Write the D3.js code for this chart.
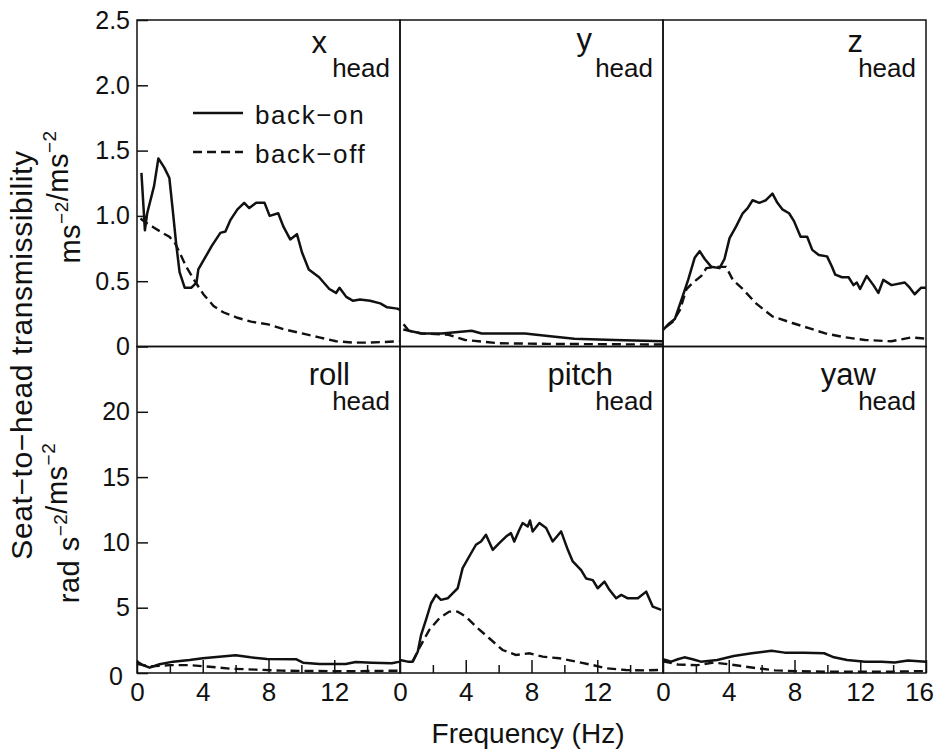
<!DOCTYPE html>
<html>
<head>
<meta charset="utf-8">
<script src="https://cdn.jsdelivr.net/npm/d3@7"></script>
<style>
  body { margin: 0; background: #fff; }
  svg { display: block; font-family: "Liberation Sans", Arial, sans-serif; }
</style>
</head>
<body>
<div class="chart"></div>
<script>
// ======= SEAT-TO-HEAD TRANSMISSIBILITY, 6 PANELS ===========

// [frequency (Hz), transmissibility]
const xHeadOn = [[0.27,1.33],[0.48,0.89],[0.62,1.02],[1.04,1.23],[1.3,1.44],[1.66,1.37],[1.97,1.29],[2.17,1.05],[2.38,0.79],[2.59,0.57],[2.9,0.45],[3.31,0.45],[3.62,0.49],[3.73,0.59],[4.14,0.68],[4.55,0.77],[5.07,0.87],[5.38,0.88],[5.69,0.97],[6.11,1.05],[6.52,1.1],[6.83,1.06],[7.25,1.1],[7.76,1.1],[8.07,1.0],[8.59,1.02],[8.9,0.92],[9.32,0.82],[9.73,0.86],[10.04,0.72],[10.45,0.59],[11.08,0.53],[11.7,0.44],[12.11,0.41],[12.32,0.45],[12.73,0.38],[13.15,0.35],[13.56,0.36],[14.18,0.35],[14.8,0.33],[15.22,0.3],[15.84,0.29],[16,0.28]]
const xHeadOff = [[0.21,0.98],[0.52,0.95],[1.04,0.91],[1.55,0.87],[1.97,0.84],[2.28,0.8],[2.59,0.72],[3.0,0.61],[3.52,0.5],[4.04,0.4],[4.66,0.31],[5.28,0.26],[6.11,0.22],[6.94,0.19],[7.97,0.17],[9.0,0.13],[10.04,0.1],[11.08,0.07],[12.11,0.04],[13.15,0.03],[14.18,0.03],[16,0.04]]

const yHeadOn = [[0.22,0.17],[0.53,0.12],[1.33,0.1],[2.55,0.1],[4.36,0.12],[4.97,0.1],[7.6,0.1],[9.0,0.08],[10.6,0.06],[13.05,0.05],[16,0.04]]
const yHeadOff = [[0.2,0.13],[1.3,0.1],[2.95,0.09],[3.96,0.05],[6.0,0.025],[9.0,0.02],[16,0.015]]

const zHeadOn = [[0.02,0.13],[0.32,0.17],[0.72,0.21],[1.13,0.36],[1.53,0.51],[1.93,0.68],[2.23,0.73],[2.54,0.67],[2.94,0.61],[3.44,0.6],[3.74,0.67],[4.05,0.83],[4.45,0.92],[4.85,1.02],[5.15,1.06],[5.45,1.12],[5.86,1.1],[6.26,1.12],[6.66,1.17],[6.96,1.1],[7.26,1.05],[7.67,1.02],[7.97,0.96],[8.37,0.84],[8.77,0.84],[9.08,0.74],[9.48,0.7],[9.98,0.69],[10.28,0.61],[10.48,0.55],[10.89,0.53],[11.29,0.53],[11.59,0.47],[11.79,0.49],[11.99,0.44],[12.39,0.54],[12.8,0.47],[13.1,0.41],[13.4,0.51],[13.9,0.47],[14.71,0.49],[15.01,0.45],[15.31,0.4],[15.71,0.45],[16,0.45]]
const zHeadOff = [[0.2,0.15],[0.6,0.19],[1.03,0.28],[1.43,0.44],[1.83,0.49],[2.33,0.54],[2.64,0.6],[3.24,0.61],[3.84,0.61],[4.25,0.51],[4.85,0.44],[5.66,0.33],[6.66,0.23],[7.87,0.18],[8.88,0.14],[9.88,0.1],[11.09,0.07],[12.29,0.05],[13.9,0.04],[15.1,0.07],[16,0.06]]

const rollHeadOn = [[0,0.87],[0.35,0.61],[0.77,0.41],[1.37,0.67],[2.2,0.87],[3.2,1.0],[4.0,1.13],[5.0,1.25],[6.0,1.36],[6.9,1.2],[7.9,1.07],[9.7,1.05],[10.1,0.79],[11.1,0.69],[12.7,0.69],[13.3,0.84],[14.3,0.79],[15.5,0.74],[16,0.87]]
const rollHeadOff = [[0,0.7],[0.77,0.5],[2.0,0.6],[3.2,0.6],[4.6,0.46],[5.7,0.33],[7.2,0.26],[8.8,0.18],[10.8,0.15],[12.9,0.13],[16,0.18]]

const pitchHeadOn = [[0,1.0],[0.47,0.87],[0.77,0.87],[1.08,1.63],[1.28,2.9],[1.58,4.06],[1.89,5.34],[2.19,5.98],[2.49,5.6],[2.9,5.72],[3.2,6.1],[3.51,6.49],[3.81,8.03],[4.21,8.92],[4.62,9.82],[4.93,10.07],[5.23,10.58],[5.64,9.43],[6.04,9.95],[6.45,10.45],[6.75,10.71],[6.95,10.07],[7.26,10.97],[7.46,11.48],[7.77,11.22],[7.91,11.68],[8.07,10.84],[8.48,11.48],[8.89,11.1],[9.29,10.07],[9.8,10.84],[10.21,9.43],[10.51,8.54],[11.02,7.88],[11.32,7.24],[11.73,7.11],[12.03,6.49],[12.44,7.0],[12.74,6.37],[13.15,5.72],[13.46,5.98],[13.86,5.72],[14.47,5.72],[14.98,6.23],[15.38,5.08],[15.89,4.83]]
const pitchHeadOff = [[0.77,0.87],[1.17,1.9],[1.78,3.3],[2.39,4.19],[3.0,4.7],[3.51,4.7],[4.01,4.32],[4.62,3.55],[5.43,2.66],[6.24,1.76],[7.05,1.38],[7.86,1.51],[8.68,1.25],[9.69,1.13],[10.7,0.87],[11.72,0.61],[12.53,0.36],[13.75,0.23],[14.9,0.2],[15.9,0.23]]

const yawHeadOn = [[0,1.05],[0.5,0.87],[0.9,1.05],[1.3,1.2],[1.8,1.05],[2.3,0.87],[3.3,1.0],[4.3,1.3],[5.4,1.51],[6.6,1.71],[7.4,1.56],[8.6,1.56],[9.8,1.51],[10.4,1.2],[11.2,1.0],[12.3,0.87],[13.3,0.87],[14.1,0.8],[14.9,0.95],[16,0.87]]
const yawHeadOff = [[0,0.9],[0.9,0.65],[2.1,0.6],[3.1,0.8],[4.1,0.65],[5.5,0.4],[6.8,0.2],[8.4,0.13],[9.9,0.1],[11.9,0.1],[14,0.1],[16,0.15]]

// axis ticks
const freqTicks = [0, 4, 8, 12, 16]
const freqMinorTicks = [2, 6, 10, 14]
const transTicks = [0, 0.5, 1, 1.5, 2, 2.5]
const transTickLabels = ['0', '0.5', '1.0', '1.5', '2.0', '2.5']
const rotTicks = [0, 5, 10, 15, 20]
const rotTickLabels = ['0', '5', '10', '15', '20']

const panelLabels = ['x', 'y', 'z', 'roll', 'pitch', 'yaw']
const seriesNames = ['back\u2212on', 'back\u2212off']

// ---------------------------------------------------------------

const margin = { top: 20, left: 137 }
const panelW = 263
const panelH = 326.5

const svg = d3.select('.chart')
  .append('svg')
    .attr('width', 936)
    .attr('height', 750)

const xScale = d3.scaleLinear()
  .domain([0, 16])
  .range([0, panelW])

const yTop = d3.scaleLinear()
  .domain([0, 2.5])
  .range([panelH, 0])

const yBottom = d3.scaleLinear()
  .domain([0, 25])
  .range([panelH, 0])

const panels = [
  { on: xHeadOn, off: xHeadOff },
  { on: yHeadOn, off: yHeadOff },
  { on: zHeadOn, off: zHeadOff },
  { on: rollHeadOn, off: rollHeadOff },
  { on: pitchHeadOn, off: pitchHeadOff },
  { on: yawHeadOn, off: yawHeadOff }
].map((p, i) => ({
  ...p,
  label: panelLabels[i],
  row: Math.floor(i / 3),
  col: i % 3
}))

// where the big label ends / sits, relative to the panel's top-right corner
const labelPos = {
  x: { dx: -73, dy: 33 },
  y: { dx: -71, dy: 30 },
  z: { dx: -63, dy: 32 },
  roll: { dx: -50, dy: 38 },
  pitch: { dx: -50, dy: 38 },
  yaw: { dx: -50, dy: 38 }
}

panels.forEach(p => {
  const y = p.row === 0 ? yTop : yBottom
  const g = svg.append('g')
    .attr('transform', `translate(${margin.left + p.col * panelW}, ${margin.top + p.row * panelH})`)

  const line = d3.line()
    .x(d => xScale(d[0]))
    .y(d => y(d[1]))

  g.append('path')
    .datum(p.off)
    .attr('d', line)
    .attr('fill', 'none')
    .attr('stroke', '#111')
    .attr('stroke-width', 2.4)
    .attr('stroke-dasharray', '9,5')

  g.append('path')
    .datum(p.on)
    .attr('d', line)
    .attr('fill', 'none')
    .attr('stroke', '#111')
    .attr('stroke-width', 2.5)
    .attr('stroke-linejoin', 'round')

  // bottom row has frequency ticks pointing up
  if (p.row === 1) {
    const ticks = p.col === 2 ? freqTicks : freqTicks.slice(0, 4)
    g.append('g')
      .attr('transform', `translate(0, ${panelH})`)
      .call(d3.axisBottom(xScale)
        .tickValues(freqMinorTicks)
        .tickFormat('')
        .tickSizeInner(-8)
        .tickSizeOuter(0))
      .call(a => a.select('.domain').remove())
      .call(a => a.selectAll('line').attr('stroke', '#111').attr('stroke-width', 1.5))
    g.append('g')
      .attr('class', 'x-axis')
      .attr('transform', `translate(0, ${panelH})`)
      .call(d3.axisBottom(xScale)
        .tickValues(ticks)
        .tickSizeInner(-13)
        .tickSizeOuter(0)
        .tickPadding(10))
      .call(a => a.select('.domain').remove())
      .call(a => a.selectAll('line').attr('stroke', '#111').attr('stroke-width', 1.5))
      .attr('font-size', 26)
      .attr('font-family', null)
      .selectAll('text')
        .attr('fill', '#111')
        // keep the last "16" inside the picture
        .attr('dx', d => d === 16 ? -7 : null)
  }

  g.append('rect')
    .attr('width', panelW)
    .attr('height', panelH)
    .attr('fill', 'none')
    .attr('stroke', '#111')
    .attr('stroke-width', 1.5)

  const lp = labelPos[p.label]
  g.append('text')
    .attr('x', panelW + lp.dx)
    .attr('y', lp.dy)
    .attr('text-anchor', 'end')
    .attr('font-size', 31)
    .attr('fill', '#111')
    .text(p.label)
  g.append('text')
    .attr('x', panelW - 10)
    .attr('y', p.row === 0 ? 57 : 63)
    .attr('text-anchor', 'end')
    .attr('font-size', 26)
    .attr('fill', '#111')
    .text('head')
})

// y axes on the left column only
const addYAxis = (scale, ticks, labels, row) => {
  svg.append('g')
    .attr('transform', `translate(${margin.left}, ${margin.top + row * panelH})`)
    .call(d3.axisLeft(scale)
      .tickValues(ticks)
      .tickFormat(d => labels[ticks.indexOf(d)])
      .tickSizeInner(-11)
      .tickSizeOuter(0)
      .tickPadding(7))
    .call(a => a.select('.domain').remove())
    .call(a => a.selectAll('line').attr('stroke', '#111').attr('stroke-width', 1.5))
    .attr('font-size', 25)
    .attr('font-family', null)
    .call(a => a.selectAll('text').attr('fill', '#111'))
    // nudge the bottom 0 out of the way of the frequency 0
    .call(a => a.selectAll('.tick')
      .filter(d => row === 1 && d === 0)
      .select('text')
        .attr('transform', 'translate(-7, 3)'))
}
addYAxis(yTop, transTicks, transTickLabels, 0)
addYAxis(yBottom, rotTicks, rotTickLabels, 1)

// legend in the x panel
const legend = svg.append('g')
  .attr('transform', `translate(${margin.left}, 0)`)
seriesNames.forEach((name, i) => {
  const ly = 113 + i * 39
  legend.append('line')
    .attr('x1', 56).attr('x2', 106)
    .attr('y1', ly).attr('y2', ly)
    .attr('stroke', '#111')
    .attr('stroke-width', 2.5)
    .attr('stroke-dasharray', i ? '9,5' : null)
  legend.append('text')
    .attr('x', 118)
    .attr('y', ly + 11)
    .attr('font-size', 26)
    .attr('letter-spacing', 1.6)
    .attr('fill', '#111')
    .text(name)
})

// axis titles
svg.append('text')
  .attr('transform', 'translate(32, 355) rotate(-90)')
  .attr('text-anchor', 'middle')
  .attr('font-size', 30)
  .attr('letter-spacing', 0.6)
  .attr('fill', '#111')
  .text('Seat\u2212to\u2212head transmissibility')

const unitLabel = (x, y, parts) => {
  const t = svg.append('text')
    .attr('transform', `translate(${x}, ${y}) rotate(-90)`)
    .attr('text-anchor', 'middle')
    .attr('font-size', 29)
    .attr('letter-spacing', 0.5)
    .attr('fill', '#111')
  parts.forEach(([s, sup]) => {
    t.append('tspan').text(s)
    t.append('tspan')
      .attr('dy', -12)
      .attr('font-size', 19)
      .text(sup)
    t.append('tspan').attr('dy', 12).text('')
  })
}
unitLabel(80, 197, [['ms', '\u22122'], ['/ms', '\u22122']])
unitLabel(79, 523, [['rad s', '\u22122'], ['/ms', '\u22122']])

svg.append('text')
  .attr('x', 528)
  .attr('y', 743)
  .attr('text-anchor', 'middle')
  .attr('font-size', 28)
  .attr('fill', '#111')
  .text('Frequency (Hz)')
</script>
</body>
</html>
